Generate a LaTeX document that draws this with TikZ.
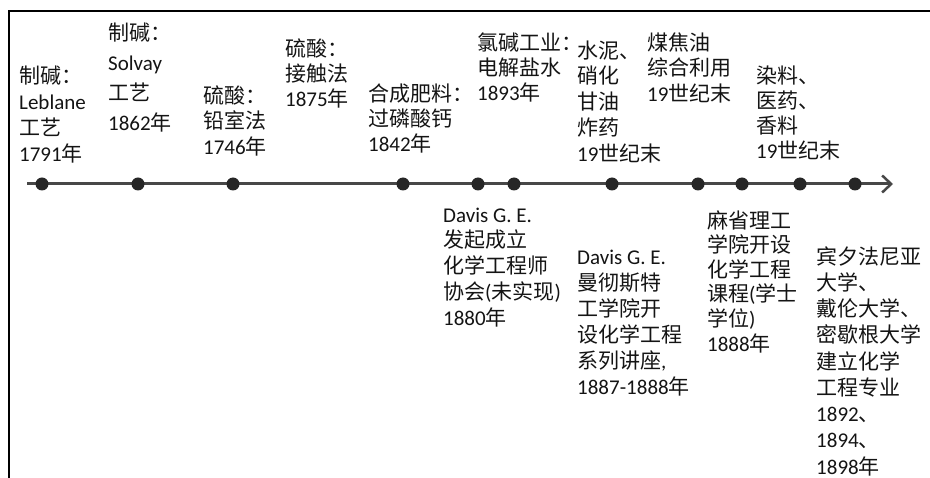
\documentclass[tikz,border=0pt]{standalone}
\usepackage{fontspec}
\setmainfont{Carlito}
\newfontfamily\cjk{Noto Sans CJK SC}
\usetikzlibrary{arrows.meta}
\newcommand\zh[1]{{\cjk #1}}
\newcommand\fs{\rule{0pt}{20pt}}
\begin{document}
\begin{tikzpicture}[x=1pt,y=-1pt,
  lbl/.style={anchor=north west, inner sep=0pt, align=left,
    font=\fontsize{21pt}{#1pt}\selectfont, text=black!92},
  lbl/.default=25.5,
  dot/.style={circle, fill=black!85, minimum size=13pt, inner sep=0pt},
  axis/.style={line width=3pt, draw=black!72,
    -{Straight Barb[length=9pt,width=17pt,line width=2.5pt]}}]
\useasboundingbox (0,0) rectangle (930,478);
% frame
\draw[line width=2.2pt] (9,480) -- (9,11) -- (932,11);
% timeline
\coordinate (ts) at (27,184);
\coordinate (te) at (893,184);
\draw[axis] (ts) -- (te);
\foreach \x [count=\i] in {42,138,233,403,478,514,612,698,742,800,855}
  \node[dot] (d\i) at (\x,184) {};
% labels above
\node[lbl=26] (tA) at (19,63) {\fs\zh{制碱：}\\Leblane\\\zh{工艺}\\1791\zh{年}};
\node[lbl=30] (tB) at (108,20) {\fs\zh{制碱：}\\Solvay\\\zh{工艺}\\1862\zh{年}};
\node[lbl] (tC) at (203,83) {\fs\zh{硫酸：}\\\zh{铅室法}\\1746\zh{年}};
\node[lbl=25] (tD) at (285,36) {\fs\zh{硫酸：}\\\zh{接触法}\\1875\zh{年}};
\node[lbl=25] (tE) at (368,81) {\fs\zh{合成肥料：}\\\zh{过磷酸钙}\\1842\zh{年}};
\node[lbl=25] (tF) at (477,30) {\fs\zh{氯碱工业：}\\\zh{电解盐水}\\1893\zh{年}};
\node[lbl=25.75] (tG) at (577,38) {\fs\zh{水泥、}\\\zh{硝化}\\\zh{甘油}\\\zh{炸药}\\19\zh{世纪末}};
\node[lbl] (tH) at (647,30) {\fs\zh{煤焦油}\\\zh{综合利用}\\19\zh{世纪末}};
\node[lbl=25] (tI) at (756,63) {\fs\zh{染料、}\\\zh{医药、}\\\zh{香料}\\19\zh{世纪末}};
% labels below
\node[lbl=25.75] (tJ) at (443,202) {\fs Davis G. E.\\\zh{发起成立}\\\zh{化学工程师}\\\zh{协会}(\zh{未实现})\\1880\zh{年}};
\node[lbl=26] (tK) at (577,244) {\fs Davis G. E.\\\zh{曼彻斯特}\\\zh{工学院开}\\\zh{设化学工程}\\\zh{系列讲座},\\1887-1888\zh{年}};
\node[lbl=24.6] (tL) at (707,208) {\fs\zh{麻省理工}\\\zh{学院开设}\\\zh{化学工程}\\\zh{课程}(\zh{学士}\\\zh{学位})\\1888\zh{年}};
\node[lbl=26.25] (tM) at (816,244) {\fs\zh{宾夕法尼亚}\\\zh{大学、}\\\zh{戴伦大学、}\\\zh{密歇根大学}\\\zh{建立化学}\\\zh{工程专业}\\1892\zh{、}\\1894\zh{、}\\1898\zh{年}};
\end{tikzpicture}
\end{document}
